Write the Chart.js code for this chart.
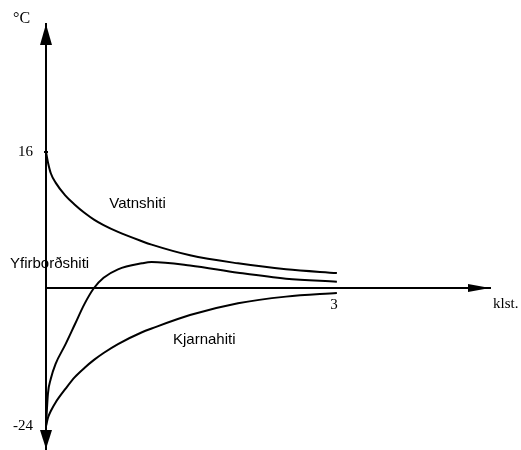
<!DOCTYPE html>
<html>
<head>
<meta charset="utf-8">
<script src="https://cdn.jsdelivr.net/npm/chart.js@4.4.0/dist/chart.umd.min.js"></script>
<style>
  html, body { margin: 0; padding: 0; background: #fff; }
  #wrap { width: 521px; height: 450px; }
</style>
</head>
<body>
<div id="wrap"><canvas id="thawChart" width="521" height="450"></canvas></div>
<script>
// hours (klst.) and temperatures (°C)
const hours         = [0, 0.02, 0.05, 0.1, 0.2, 0.3, 0.4, 0.5, 0.6, 0.75, 1, 1.1, 1.5, 2, 2.5, 3.03];
const vatnshiti     = [16, 14.8, 13.5, 12.4, 10.9, 9.8, 8.85, 8.05, 7.4, 6.6, 5.5, 5.1, 3.85, 2.9, 2.2, 1.76];
const yfirbordshiti = [-24, -18.4, -15.8, -13.2, -9.9, -6.35, -2.8, 0, 1.2, 2.2, 2.9, 3.05, 2.65, 1.8, 1.1, 0.74];
const kjarnahiti    = [-24, -22.6, -21.4, -19.9, -17.6, -15.5, -13.9, -12.5, -11.3, -9.75, -7.7, -7.05, -4.7, -2.65, -1.5, -0.87];
const seriesNames = ['Vatnshiti', 'Yfirborðshiti', 'Kjarnahiti'];
const yTicks = [16, -24];
const xTicks = [3];

// the drawing is not to scale: below zero the axis is squeezed
const NEG = 5.75 / 8.5;

class SplitScale extends Chart.LinearScale {
    static id = 'split';
    static defaults = Chart.LinearScale.defaults;
    getPixelForValue(v) {
        return super.getPixelForValue(v < 0 ? v * NEG : v);
    }
    getValueForPixel(p) {
        const v = super.getValueForPixel(p);
        return v < 0 ? v / NEG : v;
    }
}
Chart.register(SplitScale);

// curve names, placed in data units (left edge, baseline)
const nameSpots = [
    { text: 'Vatnshiti', x: 0.66, y: 9.41 },
    { text: 'Yfirborðshiti', x: -0.375, y: 2.35 },
    { text: 'Kjarnahiti', x: 1.323, y: -9.74 }
];

function arrow(ctx, pts) {
    ctx.beginPath();
    ctx.moveTo(pts[0][0], pts[0][1]);
    ctx.lineTo(pts[1][0], pts[1][1]);
    ctx.lineTo(pts[2][0], pts[2][1]);
    ctx.closePath();
    ctx.fill();
}

const sketch = {
    id: 'sketch',
    afterDraw(chart) {
        const { ctx, chartArea: a, scales: { x, y } } = chart;
        const x0 = x.getPixelForValue(0);
        const y0 = y.getPixelForValue(0);
        ctx.save();
        ctx.fillStyle = '#000';
        arrow(ctx, [[x0, a.top], [x0 - 6, a.top + 21], [x0 + 6, a.top + 21]]);
        arrow(ctx, [[x0, a.bottom], [x0 - 6, a.bottom - 19], [x0 + 6, a.bottom - 19]]);
        arrow(ctx, [[a.right, y0], [a.right - 22, y0 - 4], [a.right - 22, y0 + 4]]);

        // little mark where the water curve starts
        const y16 = y.getPixelForValue(yTicks[0]);
        ctx.fillRect(x0 - 2, y16 - 1, 4, 2);

        ctx.textBaseline = 'alphabetic';
        ctx.textAlign = 'left';
        ctx.font = '16px "Liberation Serif"';
        ctx.fillText('°C', x0 - 33, a.top - 1);
        ctx.font = '15px "Liberation Serif"';
        ctx.fillText('klst.', a.right + 3, y0 + 20);

        ctx.font = '15px "Liberation Sans"';
        nameSpots.forEach(s => {
            ctx.fillText(s.text, x.getPixelForValue(s.x), y.getPixelForValue(s.y));
        });
        ctx.restore();
    }
};

const series = [vatnshiti, yfirbordshiti, kjarnahiti];

new Chart(document.getElementById('thawChart'), {
    type: 'line',
    data: {
        datasets: series.map((vals, i) => ({
            label: seriesNames[i],
            data: hours.map((h, j) => ({ x: h, y: vals[j] })),
            borderColor: '#000',
            borderWidth: 2,
            pointRadius: 0,
            fill: false,
            tension: 0.4,
            cubicInterpolationMode: 'monotone'
        }))
    },
    plugins: [sketch],
    options: {
        responsive: false,
        animation: false,
        layout: { padding: { top: 24, right: 31, bottom: 1, left: 0 } },
        plugins: {
            legend: { display: false },
            tooltip: { enabled: false }
        },
        scales: {
            x: {
                type: 'linear',
                position: { y: 0 },
                min: 0,
                max: 4.625,
                afterFit: s => { s.height = 0; s.paddingLeft = 0; s.paddingRight = 0; },
                afterBuildTicks: s => { s.ticks = xTicks.map(v => ({ value: v })); },
                grid: { display: false, drawTicks: false },
                border: { display: true, color: '#000', width: 2 },
                ticks: {
                    padding: 8,
                    color: '#000',
                    font: { family: 'Liberation Serif', size: 15 },
                    callback: v => String(v)
                }
            },
            y: {
                type: 'split',
                position: 'left',
                min: -28 * NEG,
                max: 31.06,
                afterFit: s => { s.width = 46; s.paddingTop = 0; s.paddingBottom = 0; },
                afterBuildTicks: s => { s.ticks = yTicks.map(v => ({ value: v })); },
                grid: { display: false, drawTicks: false },
                border: { display: true, color: '#000', width: 2 },
                ticks: {
                    padding: 13,
                    color: '#000',
                    font: { family: 'Liberation Serif', size: 15 },
                    callback: v => String(v)
                }
            }
        }
    }
});
</script>
</body>
</html>
